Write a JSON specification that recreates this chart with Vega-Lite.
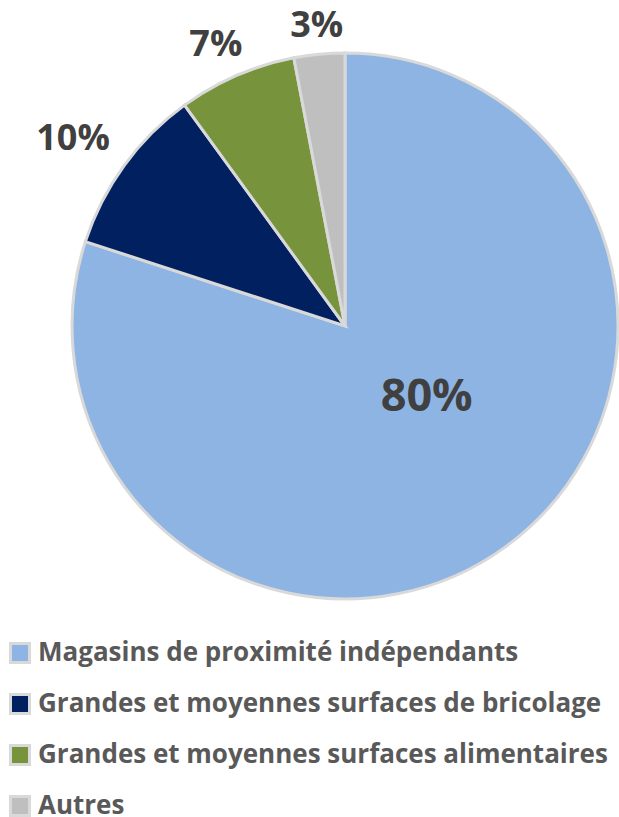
{
  "$schema": "https://vega.github.io/schema/vega-lite/v6.json",
  "width": 690,
  "height": 652,
  "autosize": {"type": "none"},
  "padding": {"left": 0, "top": 0, "right": 0, "bottom": 165},
  "background": "white",
  "view": {"stroke": null},
  "data": {"values": [
    {"categorie": "Magasins de proximité indépendants", "part": 80, "label": "80%", "ordre": 1},
    {"categorie": "Grandes et moyennes surfaces de bricolage", "part": 10, "label": "10%", "ordre": 2},
    {"categorie": "Grandes et moyennes surfaces alimentaires", "part": 7, "label": "7%", "ordre": 3},
    {"categorie": "Autres", "part": 3, "label": "3%", "ordre": 4}
  ]},
  "encoding": {
    "theta": {"field": "part", "type": "quantitative", "stack": true},
    "order": {"field": "ordre", "type": "quantitative"}
  },
  "layer": [
    {
      "mark": {"type": "arc", "outerRadius": 273, "stroke": "#D9D9D9", "strokeWidth": 3},
      "encoding": {
        "color": {
          "field": "categorie", "type": "nominal",
          "scale": {
            "domain": ["Magasins de proximité indépendants", "Grandes et moyennes surfaces de bricolage", "Grandes et moyennes surfaces alimentaires", "Autres"],
            "range": ["#8EB4E3", "#002060", "#77933C", "#BFBFBF"]
          },
          "legend": {
            "orient": "none", "legendX": 7, "legendY": 640, "direction": "vertical",
            "title": null, "padding": 0,
            "symbolType": "square", "symbolSize": 361, "symbolStrokeColor": "#D9D9D9", "symbolStrokeWidth": 3, "symbolOpacity": 1,
            "labelFont": "Open Sans", "labelFontSize": 26, "labelFontWeight": "bold", "labelColor": "#595959",
            "labelLimit": 0, "labelOffset": 5, "rowPadding": 19
          }
        }
      }
    },
    {
      "mark": {"type": "text", "radius": 108, "thetaOffset": -0.229, "font": "Open Sans", "fontSize": 45, "fontWeight": "bold", "color": "#404040", "baseline": "middle", "align": "center"},
      "encoding": {"detail": {"field": "categorie"}, "text": {"condition": {"test": "datum.ordre === 1", "field": "label"}, "value": ""}}
    },
    {
      "mark": {"type": "text", "radius": 330, "thetaOffset": -0.026, "font": "Open Sans", "fontSize": 36, "fontWeight": "bold", "color": "#404040", "baseline": "middle", "align": "center"},
      "encoding": {"detail": {"field": "categorie"}, "text": {"condition": {"test": "datum.ordre === 2", "field": "label"}, "value": ""}}
    },
    {
      "mark": {"type": "text", "radius": 309, "thetaOffset": -0.023, "font": "Open Sans", "fontSize": 36, "fontWeight": "bold", "color": "#404040", "baseline": "middle", "align": "center"},
      "encoding": {"detail": {"field": "categorie"}, "text": {"condition": {"test": "datum.ordre === 3", "field": "label"}, "value": ""}}
    },
    {
      "mark": {"type": "text", "radius": 301, "font": "Open Sans", "fontSize": 36, "fontWeight": "bold", "color": "#404040", "baseline": "middle", "align": "center"},
      "encoding": {"detail": {"field": "categorie"}, "text": {"condition": {"test": "datum.ordre === 4", "field": "label"}, "value": ""}}
    }
  ]
}
